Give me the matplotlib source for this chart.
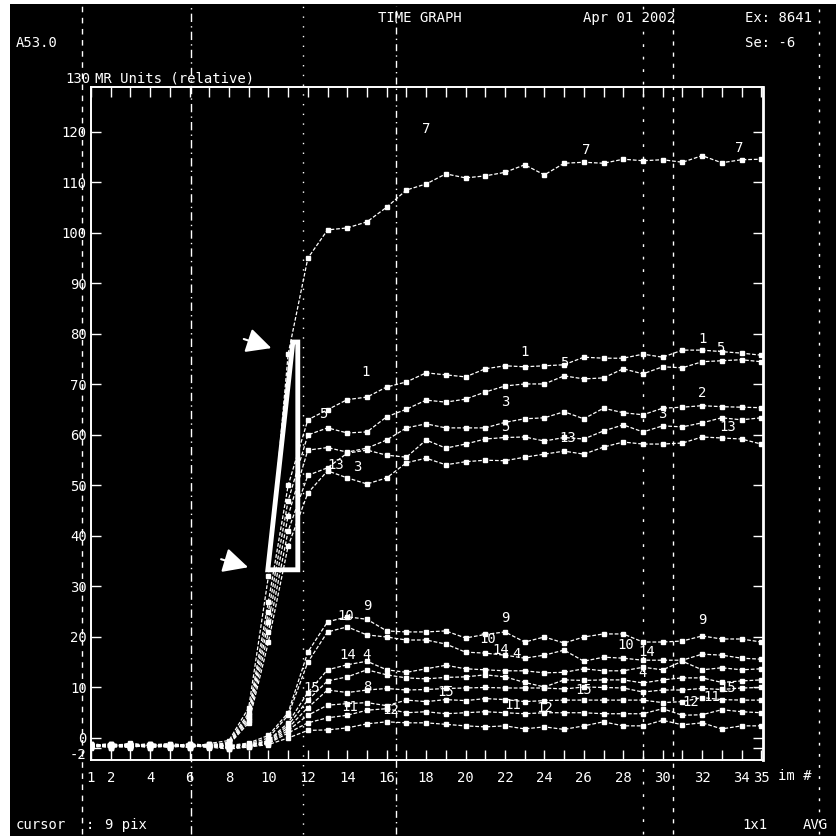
import numpy as np
import matplotlib
matplotlib.use("Agg")
import matplotlib.pyplot as plt
from matplotlib.patches import Rectangle, Polygon
from matplotlib.lines import Line2D

# image numbers 1..35
frames = list(range(1, 36))

# upper group (enhancing)
s7 = [-1.2, -1.8, -1.0, -1.6, -1.3, -1.9, -1.1, -0.5, 6, 32, 76, 95, 100.6, 101, 102.2, 105.1,
      108.5, 109.7, 111.7, 110.9, 111.3, 112, 113.5, 111.5, 113.8, 114, 113.8, 114.6, 114.3,
      114.5, 114, 115.3, 113.9, 114.5, 114.6]
s1 = [-1.5, -1.1, -1.7, -1.3, -1.8, -1.2, -1.6, -0.8, 5, 27, 50, 63, 65, 67, 67.5, 69.5, 70.5,
      72.3, 71.9, 71.5, 73.1, 73.7, 73.5, 73.7, 73.9, 75.4, 75.2, 75.2, 76, 75.4, 76.8, 76.8,
      76.5, 76.2, 75.8]
s5 = [-1.7, -1.4, -1.2, -1.9, -1.5, -1.3, -1.8, -1.0, 4.5, 25, 47, 60, 61.4, 60.4, 60.6, 63.6,
      65.1, 66.9, 66.5, 67.1, 68.5, 69.7, 70.1, 70.1, 71.7, 71.1, 71.3, 73.1, 72.1, 73.5, 73.3,
      74.5, 74.7, 74.9, 74.5]
s2 = [-1.3, -1.9, -1.5, -1.1, -1.6, -1.8, -1.2, -1.1, 4, 23, 44, 57, 57.5, 56.6, 57.4, 59, 61.4,
      62.2, 61.4, 61.4, 61.4, 62.5, 63.2, 63.4, 64.6, 63.2, 65.3, 64.4, 64, 65.3, 65.5, 65.8,
      65.6, 65.5, 65.4]
s3 = [-1.8, -1.2, -1.6, -1.4, -1.1, -1.5, -1.9, -1.2, 3.5, 21, 41, 52, 53.5, 56.4, 57, 56, 55.6,
      59, 57.4, 58.2, 59.2, 59.5, 59.6, 58.8, 59.5, 59.2, 60.8, 62, 60.6, 61.8, 61.6, 62.4,
      63.4, 63, 63.4]
s13 = [-1.4, -1.6, -1.9, -1.2, -1.7, -1.1, -1.5, -1.3, 3, 19, 38, 48.5, 52.9, 51.5, 50.3, 51.5,
       54.5, 55.4, 54.1, 54.7, 55, 54.9, 55.6, 56.2, 56.8, 56.2, 57.6, 58.6, 58.2, 58.2, 58.4,
       59.6, 59.4, 59.2, 58.2]

# lower group
s9 = [-1.6, -1.3, -1.8, -1.5, -1.2, -1.7, -1.4, -1.5, -1, 0.5, 5, 17, 23, 24, 23.5, 21.2, 21,
      21, 21.2, 19.8, 20.5, 21, 19, 20, 18.8, 20, 20.6, 20.6, 19, 19, 19.2, 20.2, 19.6, 19.6, 19]
s10 = [-1.2, -1.7, -1.4, -1.8, -1.6, -1.2, -1.7, -1.6, -1.2, 0, 4.5, 15, 21, 22, 20.4, 20, 19.4,
       19.4, 18.6, 17, 16.8, 16.4, 15.8, 16.4, 17.4, 15.2, 16, 15.8, 15.4, 15.4, 15.4, 16.6,
       16.4, 15.8, 15.6]
s14 = [-1.9, -1.5, -1.3, -1.7, -1.4, -1.6, -1.2, -1.7, -1.3, -0.5, 3, 9, 13.5, 14.5, 15.2, 13.5,
       13, 13.7, 14.4, 13.7, 13.5, 13.3, 13.3, 12.9, 13, 13.7, 13.3, 13.3, 14, 13.5, 15.2, 13.5,
       13.9, 13.5, 13.7]
s4 = [-1.1, -1.6, -1.8, -1.3, -1.9, -1.4, -1.6, -1.8, -1.4, -0.6, 2.5, 7.5, 11.3, 12.1, 13.5,
      12.5, 11.9, 11.7, 12, 12.1, 12.5, 12.1, 11, 10.1, 11.5, 11.4, 11.5, 11.5, 10.9, 11.5,
      11.9, 11.9, 11, 11.3, 11.5]
s8 = [-1.7, -1.2, -1.5, -1.9, -1.3, -1.8, -1.5, -1.9, -1.5, -0.8, 2, 6, 9.5, 9, 9.5, 9.8, 9.5,
      9.6, 9.8, 9.9, 10, 9.9, 9.9, 9.9, 9.7, 10.1, 10, 9.9, 9.1, 9.5, 9.5, 9.8, 9.6, 9.9, 10]
s11 = [-1.5, -1.9, -1.1, -1.6, -1.8, -1.3, -1.7, -2.0, -1.6, -1, 1.5, 4.5, 6.5, 6.8, 7, 6.4,
       7.5, 7.2, 7.6, 7.4, 7.8, 7.6, 7.2, 7.4, 7.5, 7.5, 7.5, 7.5, 7.5, 7, 7.2, 8, 7.6, 7.5, 7.5]
s12 = [-1.3, -1.5, -1.7, -1.2, -1.5, -1.9, -1.3, -2.1, -1.7, -1.1, 1, 3, 4, 4.5, 5.5, 5.8, 5,
       5.2, 4.8, 5, 5.2, 5, 4.8, 5, 5, 5, 4.8, 4.8, 4.8, 5.8, 4.5, 4.6, 5.6, 5.2, 5]
s16 = [-1.8, -1.4, -1.6, -1.5, -1.7, -1.5, -1.8, -2.2, -1.8, -1.3, 0, 1.5, 1.6, 2, 2.8, 3.2, 3,
       3, 2.7, 2.4, 2.2, 2.4, 1.8, 2.2, 1.7, 2.4, 3.2, 2.4, 2.4, 3.5, 2.6, 3, 1.8, 2.4, 2.4]

series = [s7, s1, s5, s2, s3, s13, s9, s10, s14, s4, s8, s11, s12, s16]

# curve labels written on the plot: (text, image #, value)
curve_labels = [
    ("7", 18.0, 120.5), ("7", 26.1, 116.5), ("7", 33.9, 116.8),
    ("1", 14.9, 72.5), ("1", 23.0, 76.4), ("1", 32.0, 79.0),
    ("5", 12.8, 64.2), ("5", 25.0, 74.2), ("5", 32.9, 77.2),
    ("3", 22.0, 66.5), ("5", 22.0, 61.6), ("3", 30.0, 64.2), ("2", 32.0, 68.3),
    ("13", 13.4, 54.0), ("3", 14.5, 53.6), ("13", 25.2, 59.4), ("13", 33.3, 61.6),
    ("10", 13.9, 24.2), ("9", 15.0, 26.2), ("9", 22.0, 23.8), ("10", 21.1, 19.6),
    ("9", 32.0, 23.4), ("10", 28.1, 18.4), ("14", 29.2, 17.0),
    ("14", 14.0, 16.4), ("4", 15.0, 16.4), ("14", 21.8, 17.4), ("4", 22.6, 16.6),
    ("4", 29.0, 12.8), ("8", 15.0, 10.1),
    ("15", 12.2, 9.9), ("15", 19.0, 9.1), ("15", 26.0, 9.5), ("15", 33.3, 9.9),
    ("11", 14.1, 6.1), ("11", 22.4, 6.5), ("11", 32.5, 8.1),
    ("12", 16.2, 5.5), ("12", 24.0, 5.9), ("12", 31.4, 7.1),
]

xtick_vals = [1, 2, 4, 6, 8, 10, 12, 14, 16, 18, 20, 22, 24, 26, 28, 30, 32, 34, 35]
ytick_vals = [-2, 0, 10, 20, 30, 40, 50, 60, 70, 80, 90, 100, 110, 120]

# highlighted upswing box and arrows (image #, value)
box_pts = [(9.97, 33.3), (11.49, 33.3), (11.49, 78.4), (11.24, 78.4)]
arrows = [((8.75, 79.0), (10.15, 77.2)), ((7.6, 35.4), (8.97, 33.8))]

W, H = 837, 838
mono = "DejaVu Sans Mono"
fs = 10


def fx(px):
    return px / W


def fy(py):
    return 1 - py / H


fig = plt.figure(figsize=(W / 100, H / 100), dpi=100, facecolor="white")
fig.patches.append(Rectangle((fx(10), fy(836)), 1 - fx(10), fy(4) - fy(836),
                             transform=fig.transFigure, facecolor="black",
                             edgecolor="none", zorder=-5))

# screen dashed verticals
for px, dash in [(82, (4, 4)), (191, (6, 3, 1, 3)), (303, (1, 6)), (396, (5, 3, 1, 3)),
                 (643, (2, 7)), (673, (3, 5)), (819, (2, 6))]:
    fig.add_artist(Line2D([fx(px), fx(px)], [fy(834), fy(6)], transform=fig.transFigure,
                          color="white", lw=1, dashes=dash, zorder=-2))

ax = fig.add_axes([fx(91), fy(760), fx(763) - fx(91), fy(87) - fy(760)])
ax.set_zorder(2)
ax.set_facecolor("none")
ax.set_xlim(1.06, 35.09)
ax.set_ylim(-4.36, 128.9)

for s in series:
    ax.plot(frames, s, color="white", lw=0.9, ls=(0, (3, 1.5)), marker="s", ms=3,
            mec="white", mfc="white", zorder=3)

for txt, xv, yv in curve_labels:
    ax.text(xv, yv, txt, color="white", fontsize=fs, family=mono, ha="center", va="center",
            zorder=4)

ax.add_patch(Polygon(box_pts, closed=True, fill=False, edgecolor="white", lw=3.5, zorder=5))
for tail, tip in arrows:
    ax.annotate("", xy=tip, xytext=tail,
                arrowprops=dict(arrowstyle="-|>", color="white", lw=1.5, mutation_scale=38,
                                shrinkA=0, shrinkB=0))

for sp in ax.spines.values():
    sp.set_color("white")
    sp.set_linewidth(1.4)
ax.spines["right"].set_linewidth(2)

ax.set_xticks(xtick_vals)
ax.set_xticklabels([str(v) for v in xtick_vals])
ax.set_xticks(frames, minor=True)
ax.set_yticks(ytick_vals)
ax.set_yticklabels([str(v) for v in ytick_vals])
ax.tick_params(axis="both", which="both", direction="in", colors="white", labelsize=fs,
               top=True, right=True, length=7, width=1)
ax.tick_params(axis="x", pad=8)
ax.tick_params(axis="y", pad=3)
for lab in ax.get_xticklabels() + ax.get_yticklabels():
    lab.set_family(mono)
# "0" and "-2" sit on top of each other on the screen; nudge -2 down a bit
ax.get_yticklabels()[0].set_va("top")

# screen header / footer text
hdr = dict(color="white", fontsize=fs, family=mono, va="center")
fig.text(fx(16), fy(43), "A53.0", **hdr)
fig.text(fx(378), fy(18), "TIME GRAPH", **hdr)
fig.text(fx(583), fy(18), "Apr 01 2002", **hdr)
fig.text(fx(745), fy(18), "Ex: 8641", **hdr)
fig.text(fx(745), fy(43), "Se: -6", **hdr)
fig.text(fx(90), fy(79), "130", ha="right", **hdr)
fig.text(fx(95), fy(78), "MR Units (relative)", **hdr)
fig.text(fx(778), fy(776), "im #", **hdr)
fig.text(fx(16), fy(825), "cursor", **hdr)
fig.text(fx(86), fy(825), ":", **hdr)
fig.text(fx(105), fy(825), "9 pix", **hdr)
fig.text(fx(742), fy(825), "1x1", **hdr)
fig.text(fx(803), fy(825), "AVG", **hdr)

fig.savefig("out.png", dpi=100, facecolor="white")
